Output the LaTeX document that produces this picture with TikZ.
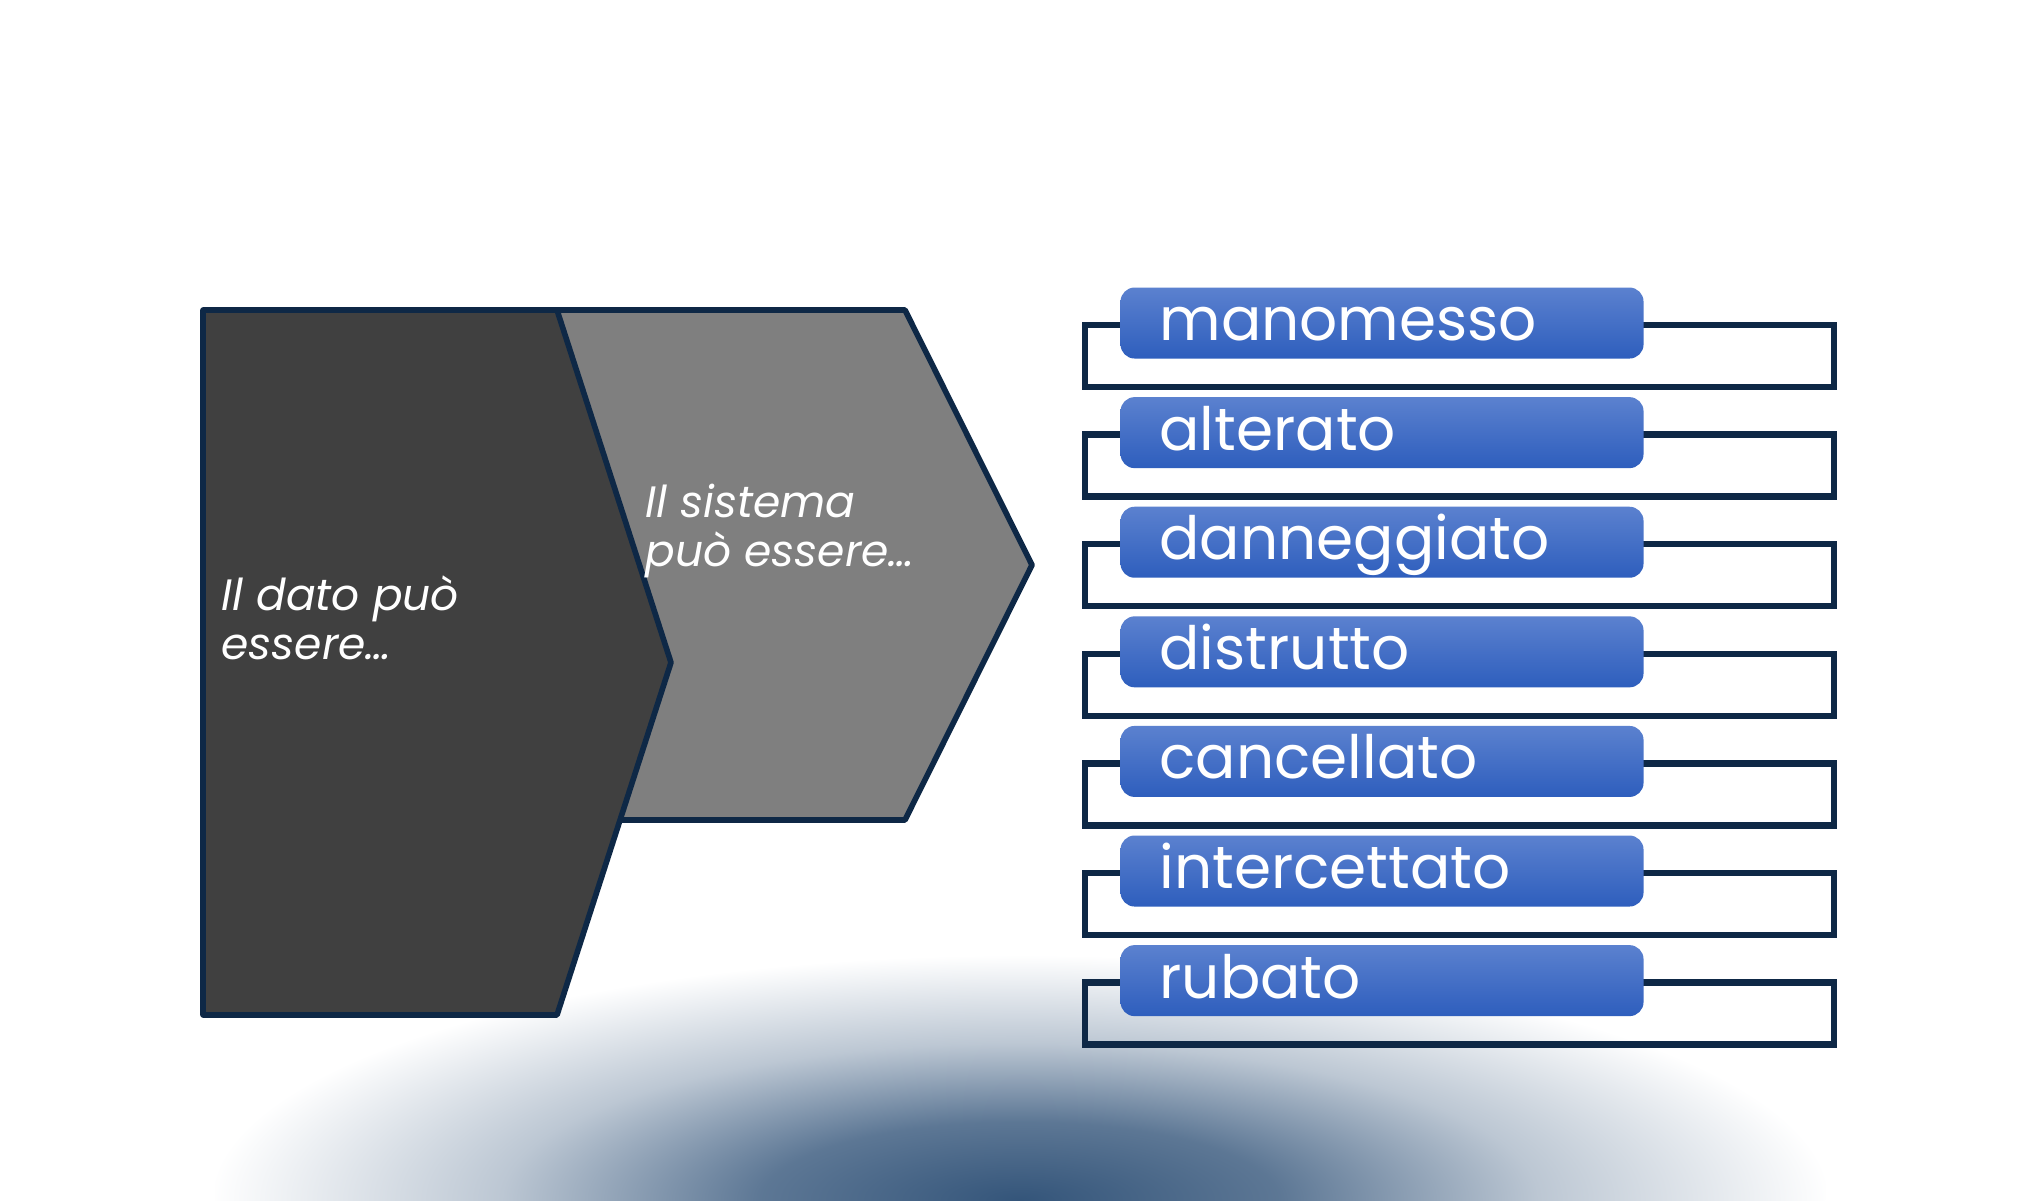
\documentclass[tikz,border=0pt]{standalone}
\usepackage{fontspec}
\setmainfont{Poppins}
\usetikzlibrary{positioning}
\definecolor{navyline}{HTML}{0E2846}
\definecolor{chevdark}{HTML}{404040}
\definecolor{chevgrey}{HTML}{7F7F7F}
\definecolor{boxtop}{HTML}{5B81CF}
\definecolor{boxbottom}{HTML}{2E5EBD}
\definecolor{glowblue}{HTML}{34557A}
\pgfdeclareradialshading{glow}{\pgfpoint{0bp}{0bp}}{color(0bp)=(glowblue); color(8bp)=(glowblue!80); color(16bp)=(glowblue!33); color(25bp)=(white); color(50bp)=(white)}
\tikzset{
    chevron/.style={draw=navyline, line width=1.6pt, line join=round},
    chevtext/.style={text=white, align=left, anchor=west, inner sep=0pt,
        font=\itshape\fontsize{12.5}{14}\selectfont},
    itemframe/.style={draw=navyline, line width=1.8pt, minimum width=7.49cm,
        minimum height=0.62cm, inner sep=0pt},
    itembox/.style={rounded corners=4pt, top color=boxtop, bottom color=boxbottom,
        text=white, text width=4.45cm, align=left, inner xsep=0.39cm, inner ysep=0pt,
        text height=0.53cm, text depth=0.18cm, font=\fontsize{17}{20}\selectfont}
}
\begin{document}
\begin{tikzpicture}
\useasboundingbox[fill=white] (0,0) rectangle (20.4,12);

% glow at the bottom
\begin{scope}
    \clip (2.15,0) rectangle (18.25,3);
    \shade[shading=glow] (10.2,0) ellipse (8.1 and 2.45);
\end{scope}

% chevrons
\draw[chevron, fill=chevgrey] (5.07,8.90) -- (9.05,8.90) -- (10.32,6.35) -- (9.05,3.80) -- (5.07,3.80) -- cycle;
\draw[chevron, fill=chevdark] (2.03,8.90) -- (5.57,8.90) -- (6.71,5.375) -- (5.57,1.85) -- (2.03,1.85) -- cycle;
\node[chevtext] (datotext) at (2.21,5.82) {Il dato può\\essere…};
\node[chevtext] (sistematext) at (6.45,6.69) {Il sistema\\può essere…};

% list
\foreach \word [count=\i] in {manomesso, alterato, danneggiato, distrutto, cancellato, intercettato, rubato} {
    \node[itemframe] (frame\i) at (14.595, {8.44-1.096*(\i-1)}) {};
    \node[itembox, anchor=north west] (box\i) at ([xshift=0.38cm, yshift=0.35cm]frame\i.north west) {\word};
}
\end{tikzpicture}
\end{document}
